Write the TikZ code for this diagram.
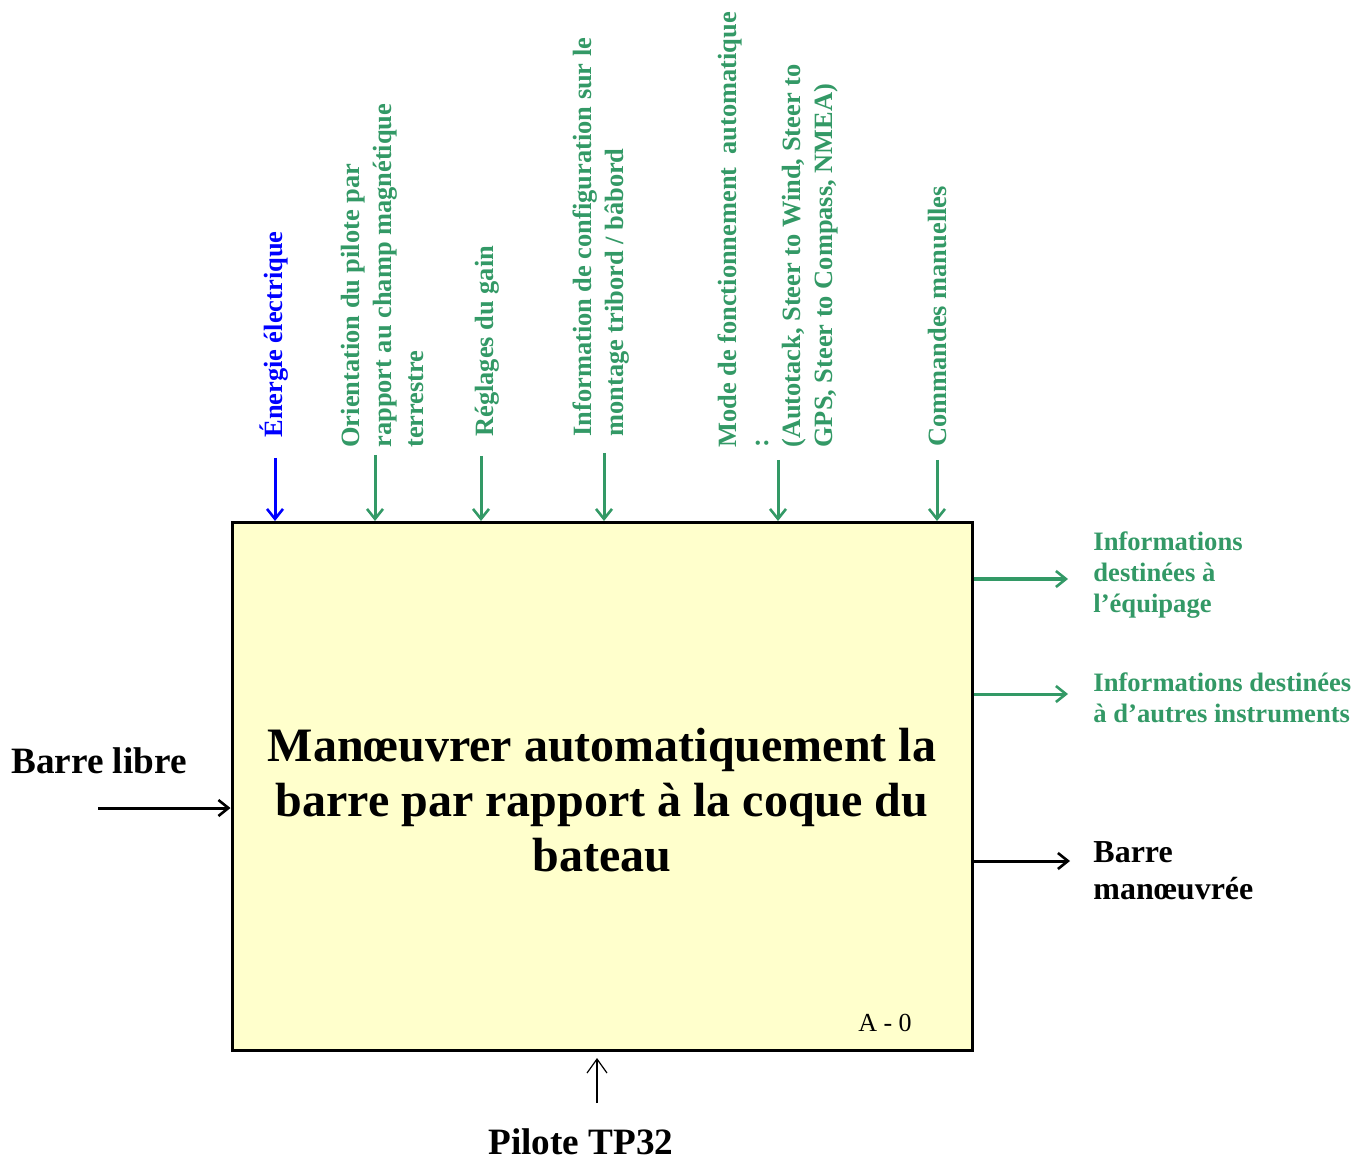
\documentclass[tikz,border=0pt]{standalone}
\usepackage{fontspec}
\setmainfont{Liberation Serif}
\usetikzlibrary{arrows.meta}
\definecolor{flowgreen}{HTML}{339966}
\definecolor{flowblue}{HTML}{0000FF}
\definecolor{boxyellow}{HTML}{FFFFCC}
\tikzset{
	ctrl/.style={line width=1.5pt, -{Straight Barb[length=5pt,width=8pt,line width=1.3pt]}},
	flow/.style={line width=1.5pt, -{Straight Barb[length=5pt,width=8pt,line width=1.3pt]}},
	toplabel/.style={rotate=90, anchor=west, align=left, inner sep=0pt, text=flowgreen,
		font=\fontsize{13.2}{16}\selectfont\bfseries},
	outlabel/.style={anchor=west, align=left, inner sep=0pt, text=flowgreen,
		font=\fontsize{13.3}{15.5}\selectfont\bfseries},
	biglabel/.style={inner sep=0pt, font=\fontsize{18.6}{21}\selectfont\bfseries},
}
\begin{document}
\begin{tikzpicture}[x=0.5pt, y=-0.5pt]
			%%%%% START %%%%%
			\useasboundingbox (0,0) rectangle (1366,1160);
			
			\node[draw, line width=1.5pt, fill=boxyellow, inner sep=0pt,
			      minimum width=370pt, minimum height=264pt] (box) at (602,786.5) {};
			\node[align=center, inner sep=0pt, font=\fontsize{24}{27.5}\selectfont\bfseries] (title) at (602,800)
			      {Man\oe uvrer automatiquement la\\barre par rapport à la coque du\\bateau};
			\node[inner sep=0pt, font=\fontsize{13}{15}\selectfont] (code) at (885,1023) {A - 0};
			
			% controles
			\coordinate (c1) at (275,458);
			\coordinate (c2) at (375,455);
			\coordinate (c3) at (481,456);
			\coordinate (c4) at (604,453);
			\coordinate (c5) at (778,460);
			\coordinate (c6) at (937,460);
			\draw[ctrl, flowblue] (c1) -- (c1 |- box.north);
			\draw[ctrl, flowgreen] (c2) -- (c2 |- box.north);
			\draw[ctrl, flowgreen] (c3) -- (c3 |- box.north);
			\draw[ctrl, flowgreen] (c4) -- (c4 |- box.north);
			\draw[ctrl, flowgreen] (c5) -- (c5 |- box.north);
			\draw[ctrl, flowgreen] (c6) -- (c6 |- box.north);
			
			\node[toplabel, text=flowblue] (energie) at (274,438) {Énergie électrique};
			\node[toplabel] (orient) at (382,448) {Orientation du pilote par\\rapport au champ magnétique\\terrestre};
			\node[toplabel] (gain) at (487,437) {Réglages du gain};
			\node[toplabel] (config) at (601,437) {Information de configuration sur le\\montage tribord / bâbord};
			\node[toplabel] (mode) at (778,448) {Mode de fonctionnement~~automatique\\:\\(Autotack, Steer to Wind, Steer to\\GPS, Steer to Compass, NMEA)};
			\node[toplabel] (manuel) at (937,447) {Commandes manuelles};
			
			% sorties
			\coordinate (o1) at (1068,579);
			\coordinate (o2) at (1068,694);
			\coordinate (o3) at (1070,861);
			\draw[flow, flowgreen] (o1 -| box.east) -- (o1);
			\draw[flow, flowgreen] (o2 -| box.east) -- (o2);
			\draw[flow] (o3 -| box.east) -- (o3);
			\node[outlabel] (equipage) at (1093,575) {Informations\\destinées à\\l’équipage};
			\node[outlabel] (instruments) at (1093,698) {Informations destinées\\à d’autres instruments};
			\node[outlabel, text=black, font=\fontsize{16}{18.5}\selectfont\bfseries] (barreout) at (1093,871) {Barre\\man\oe uvrée};
			
			% entree
			\coordinate (i1) at (98,808);
			\draw[flow] (i1) -- (i1 -| box.west);
			\node[biglabel] (barrein) at (99,761) {Barre libre};
			
			% mecanisme
			\coordinate (m1) at (597,1103);
			\draw[line width=0.6pt, -{Straight Barb[length=7pt,width=10pt,line width=0.6pt]}, shorten >=3pt] (m1) -- (m1 |- box.south);
			\node[biglabel] (pilote) at (581,1142) {Pilote TP32};
			%%%%% END %%%%%
\end{tikzpicture}
\end{document}
